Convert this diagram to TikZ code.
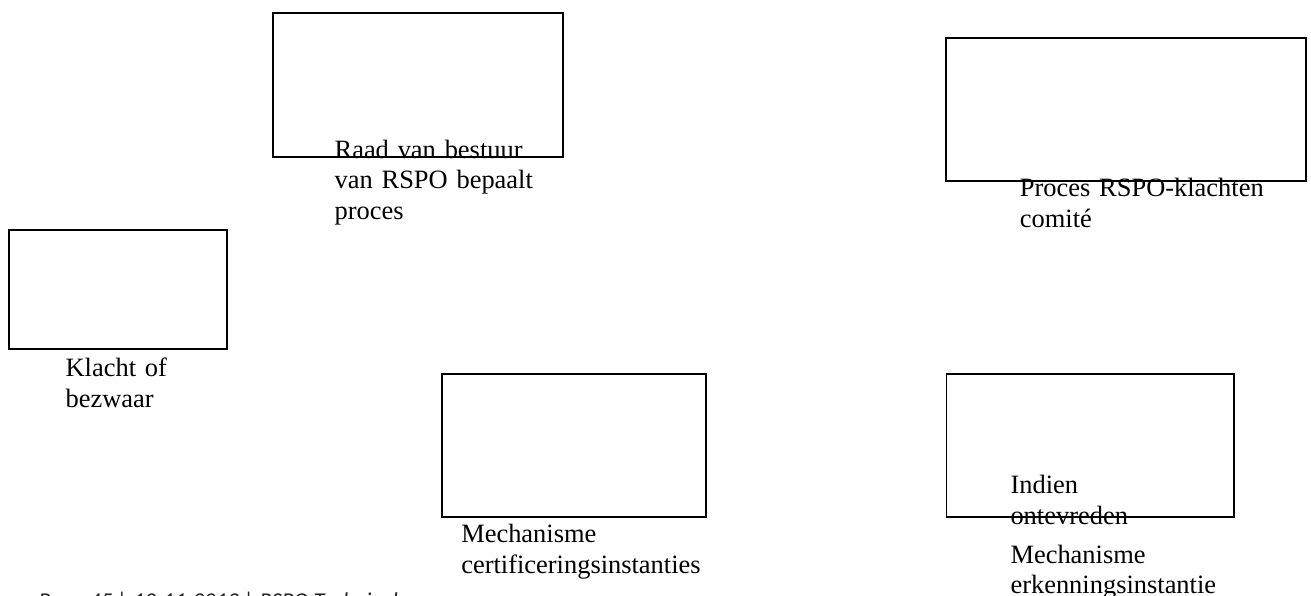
\documentclass[tikz,border=0pt]{standalone}
\usepackage{fontspec}
\setmainfont{Liberation Serif}
\newfontfamily\footfont{Carlito}
\usepackage{tikz}
\pgfdeclarelayer{boxlayer}
\pgfdeclarelayer{textlayer}
\pgfsetlayers{boxlayer,main,textlayer}
\tikzstyle{chartbox}=[rectangle,draw=black,line width=0.8pt,inner sep=0pt]
\tikzstyle{chartlabel}=[anchor=base west,inner sep=0pt,text width=8cm,align=left,font=\fontsize{12}{14}\selectfont]
\tikzstyle{pagefoot}=[anchor=base west,inner sep=0pt,text=black!85,font=\footfont\itshape\fontsize{10.3}{12}\selectfont]

\begin{document}
\begin{tikzpicture}
	\useasboundingbox (0, 0) rectangle (20.91, -9.49);
	\begin{pgfonlayer}{boxlayer}
		\node [style=chartbox, minimum width=4.63cm, minimum height=2.30cm] (0) at (6.67, -1.36) {};
		\node [style=chartbox, minimum width=5.74cm, minimum height=2.28cm] (1) at (17.96, -1.75) {};
		\node [style=chartbox, minimum width=3.48cm, minimum height=1.90cm] (2) at (1.88, -4.62) {};
		\node [style=chartbox, minimum width=4.21cm, minimum height=2.28cm] (3) at (9.16, -7.11) {};
		\node [style=chartbox, minimum width=4.59cm, minimum height=2.28cm] (4) at (17.39, -7.11) {};
	\end{pgfonlayer}
	\begin{pgfonlayer}{textlayer}
		\node [style=chartlabel] (5) at (5.33, -2.52) {Raad van bestuur\\van RSPO bepaalt\\proces};
		\node [style=chartlabel] (6) at (16.26, -3.13) {Proces RSPO-klachten\\comité};
		\node [style=chartlabel] (7) at (1.04, -6.00) {Klacht of\\bezwaar};
		\node [style=chartlabel] (8) at (7.35, -8.66) {Mechanisme\\certificeringsinstanties};
		\node [style=chartlabel] (9) at (16.11, -7.87) {Indien\\ontevreden};
		\node [style=chartlabel] (10) at (16.11, -8.98) {Mechanisme\\erkenningsinstantie};
	\end{pgfonlayer}
	\begin{scope}
		\clip (0, 0) rectangle (20.91, -9.49);
		\node [style=pagefoot] (11) at (0.61, -9.70) {Page  45 | 12-11-2013 | RSPO Technical};
	\end{scope}
\end{tikzpicture}
\end{document}
